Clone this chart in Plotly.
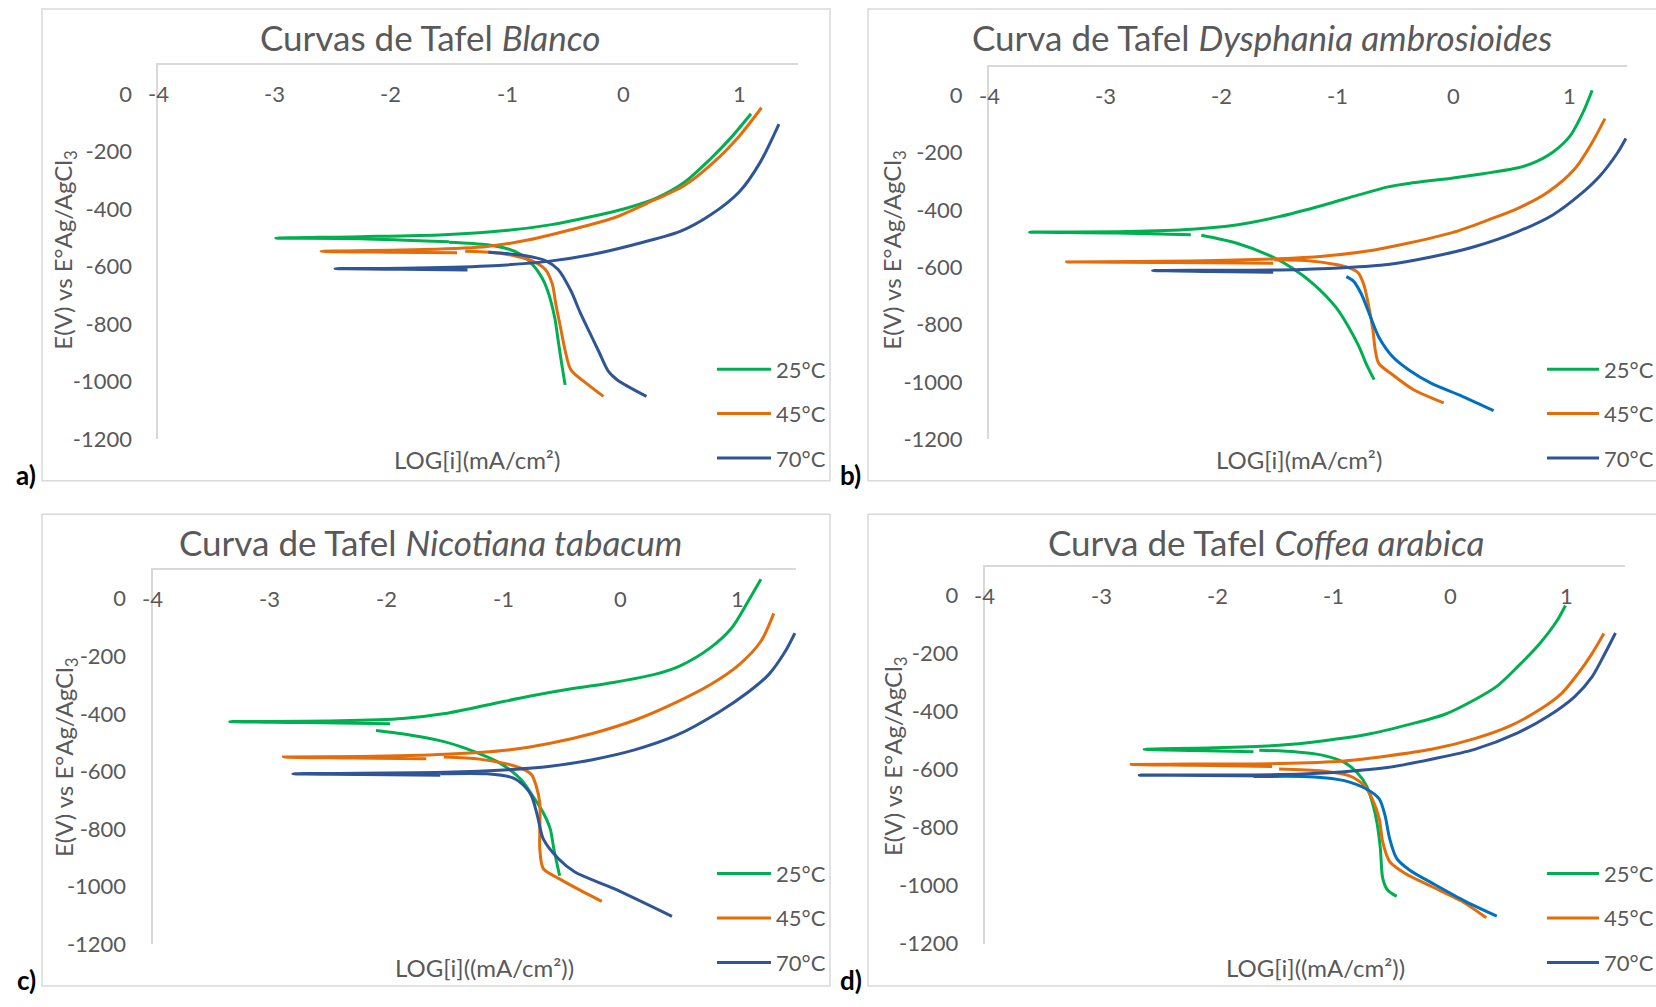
import plotly.graph_objects as go

# ---------------- data: E (mV) vs log i, three temperatures per inhibitor ----------------
TEMPS = ["25°C", "45°C", "70°C"]
X_TICKS = [-4, -3, -2, -1, 0, 1]
Y_TICKS = [0, -200, -400, -600, -800, -1000, -1200]

# a) Blanco
bl25_ano_x = [-1.50, -2.26, -2.99, -2.26, -1.54, -0.99, -0.63, -0.27, 0.02, 0.28, 0.53, 0.75, 0.93, 1.10]
bl25_ano_y = [-514, -503, -501, -496, -489, -474, -455, -426, -398, -363, -306, -226, -151, -69]
bl25_cat_x = [-1.50, -1.17, -0.99, -0.88, -0.78, -0.70, -0.65, -0.59, -0.56, -0.53, -0.50]
bl25_cat_y = [-515, -524, -539, -558, -593, -638, -684, -776, -856, -936, -1011]
bl45_ano_x = [-1.43, -2.00, -2.60, -1.72, -1.17, -0.81, -0.45, -0.09, 0.20, 0.53, 0.78, 1.00, 1.19]
bl45_ano_y = [-552, -550, -547, -541, -530, -507, -472, -432, -381, -317, -237, -146, -48]
bl45_cat_x = [-1.36, -1.10, -0.92, -0.78, -0.67, -0.61, -0.58, -0.54, -0.50, -0.45, -0.30, -0.17]
bl45_cat_y = [-547, -552, -564, -581, -610, -661, -730, -810, -891, -959, -1011, -1051]
bl70_ano_x = [-1.34, -1.90, -2.48, -1.90, -1.17, -0.63, -0.27, 0.09, 0.49, 0.75, 1.00, 1.18, 1.34]
bl70_ano_y = [-612, -609, -607, -606, -598, -581, -558, -524, -478, -421, -340, -237, -105]
bl70_cat_x = [-1.16, -0.88, -0.67, -0.56, -0.45, -0.37, -0.29, -0.21, -0.13, -0.05, 0.20]
bl70_cat_y = [-550, -560, -579, -610, -684, -760, -828, -895, -962, -994, -1051]

# b) Dysphania ambrosioides
da25_ano_x = [-2.26, -2.90, -3.65, -2.81, -2.25, -1.87, -1.50, -1.12, -0.82, -0.56, -0.38, 0.00, 0.26, 0.52, 0.67, 0.86, 1.01, 1.12, 1.20]
da25_ano_y = [-486, -480, -477, -475, -467, -452, -423, -383, -348, -319, -307, -288, -273, -256, -239, -198, -141, -60, 18]
da25_cat_x = [-2.17, -1.87, -1.57, -1.39, -1.20, -1.01, -0.90, -0.81, -0.75, -0.68]
da25_cat_y = [-488, -515, -561, -601, -659, -739, -808, -877, -935, -992]
da45_ano_x = [-1.55, -2.40, -3.33, -2.25, -1.50, -1.12, -0.75, -0.38, 0.00, 0.30, 0.56, 0.82, 1.05, 1.20, 1.31]
da45_ano_y = [-586, -583, -581, -578, -570, -561, -544, -515, -478, -435, -394, -337, -256, -164, -81]
da45_cat_x = [-1.54, -1.27, -1.01, -0.90, -0.82, -0.77, -0.73, -0.69, -0.67, -0.64, -0.52, -0.34, -0.08]
da45_cat_y = [-573, -576, -590, -601, -618, -659, -728, -820, -889, -935, -975, -1027, -1073]
da70_ano_x = [-1.55, -2.10, -2.59, -1.50, -0.94, -0.56, -0.19, 0.19, 0.56, 0.86, 1.09, 1.27, 1.42, 1.49]
da70_ano_y = [-617, -614, -611, -609, -601, -590, -564, -527, -475, -417, -348, -279, -199, -150]
da70_cat_x = [-0.92, -0.86, -0.79, -0.71, -0.64, -0.52, -0.38, -0.19, 0.08, 0.35]
da70_cat_y = [-632, -647, -693, -774, -843, -912, -958, -1004, -1050, -1100]

# c) Nicotiana tabacum
nt25_ano_x = [-1.97, -2.70, -3.34, -2.40, -1.86, -1.50, -1.07, -0.78, -0.42, -0.06, 0.30, 0.51, 0.77, 0.95, 1.09, 1.20]
nt25_ano_y = [-434, -430, -427, -424, -416, -399, -363, -339, -313, -291, -262, -233, -170, -102, -10, 67]
nt25_cat_x = [-2.09, -1.79, -1.50, -1.25, -1.03, -0.85, -0.75, -0.66, -0.60, -0.57, -0.52]
nt25_cat_y = [-458, -474, -497, -531, -571, -628, -685, -743, -800, -868, -962]
nt45_ano_x = [-1.66, -2.30, -2.88, -2.22, -1.50, -0.96, -0.60, -0.24, 0.12, 0.48, 0.77, 1.02, 1.20, 1.31]
nt45_ano_y = [-556, -553, -550, -548, -540, -525, -502, -468, -422, -359, -298, -227, -148, -51]
nt45_cat_x = [-1.51, -1.21, -1.00, -0.85, -0.76, -0.72, -0.69, -0.69, -0.69, -0.66, -0.53, -0.35, -0.16]
nt45_cat_y = [-550, -557, -571, -588, -611, -651, -708, -811, -868, -937, -971, -1011, -1051]
nt70_ano_x = [-1.54, -2.20, -2.80, -1.50, -0.96, -0.60, -0.24, 0.12, 0.48, 0.84, 1.09, 1.27, 1.41, 1.49]
nt70_ano_y = [-613, -610, -608, -603, -594, -582, -559, -525, -474, -394, -325, -262, -182, -120]
nt70_cat_x = [-1.54, -1.14, -0.92, -0.82, -0.76, -0.71, -0.66, -0.53, -0.39, -0.06, 0.44]
nt70_cat_y = [-608, -608, -622, -651, -685, -754, -834, -903, -949, -1006, -1103]

# d) Coffea arabica
ca25_ano_x = [-1.69, -2.20, -2.63, -2.03, -1.47, -1.10, -0.72, -0.35, -0.05, 0.21, 0.40, 0.58, 0.77, 0.92, 0.99]
ca25_ano_y = [-538, -534, -530, -525, -516, -501, -479, -444, -410, -359, -313, -245, -165, -85, -34]
ca25_cat_x = [-1.64, -1.32, -1.10, -0.91, -0.80, -0.72, -0.67, -0.63, -0.60, -0.58, -0.54, -0.46]
ca25_cat_y = [-533, -539, -550, -575, -610, -655, -712, -781, -872, -974, -1014, -1037]
ca45_ano_x = [-1.53, -2.20, -2.74, -2.22, -1.47, -0.91, -0.54, -0.16, 0.21, 0.51, 0.77, 0.96, 1.10, 1.22, 1.32]
ca45_ano_y = [-589, -585, -582, -581, -579, -570, -553, -530, -493, -450, -393, -336, -268, -199, -131]
ca45_cat_x = [-1.47, -1.10, -0.87, -0.74, -0.67, -0.61, -0.58, -0.52, -0.39, -0.16, 0.10, 0.31]
ca45_cat_y = [-598, -605, -621, -655, -701, -769, -849, -917, -957, -1003, -1054, -1111]
ca70_ano_x = [-1.47, -2.10, -2.67, -1.47, -0.91, -0.54, -0.16, 0.21, 0.58, 0.84, 1.07, 1.22, 1.33, 1.42]
ca70_ano_y = [-622, -620, -619, -617, -607, -593, -564, -530, -473, -416, -348, -279, -199, -129]
ca70_cat_x = [-1.69, -1.17, -0.91, -0.72, -0.61, -0.56, -0.52, -0.46, -0.35, -0.13, 0.13, 0.40]
ca70_cat_y = [-624, -625, -638, -667, -701, -758, -838, -906, -946, -997, -1054, -1105]

# ---------------- styling ----------------
W, H = 1656, 1007
FONT = "Lato, 'Open Sans', sans-serif"
TXT = "#595959"
GRID = "#D9D9D9"
COLORS = ["#00B050", "#E46C0A", "#2F5597"]
BRIGHT_BLUE = "#0070C0"
LW = 3

panels = [
    dict(label="a)", title="Curvas de Tafel <i>Blanco</i>", xtitle="LOG[i](mA/cm²)",
         box=(42, 9, 830, 487), plot=(158.4, 66, 797.5, 445),
         tpos=(430, 37), xtpos=(477, 466), ytpos=(65, 253),
         leg_x=(717, 771), leg_y=(374, 419, 464), lpos=(26, 481),
         series=[(bl25_ano_x, bl25_ano_y, bl25_cat_x, bl25_cat_y),
                 (bl45_ano_x, bl45_ano_y, bl45_cat_x, bl45_cat_y),
                 (bl70_ano_x, bl70_ano_y, bl70_cat_x, bl70_cat_y)],
         cat70_color=COLORS[2]),
    dict(label="b)", title="Curva de Tafel <i>Dysphania ambrosioides</i>", xtitle="LOG[i](mA/cm²)",
         box=(868, 9, 1662, 487), plot=(989, 67.7, 1627, 445),
         tpos=(1262, 37), xtpos=(1299, 466), ytpos=(894, 253),
         leg_x=(1547, 1599), leg_y=(374, 419, 464), lpos=(851, 481),
         series=[(da25_ano_x, da25_ano_y, da25_cat_x, da25_cat_y),
                 (da45_ano_x, da45_ano_y, da45_cat_x, da45_cat_y),
                 (da70_ano_x, da70_ano_y, da70_cat_x, da70_cat_y)],
         cat70_color=BRIGHT_BLUE),
    dict(label="c)", title="Curva de Tafel <i>Nicotiana tabacum</i>", xtitle="LOG[i]((mA/cm²))",
         box=(42, 521, 830, 999), plot=(152.5, 577.3, 796, 956.7),
         tpos=(430, 549), xtpos=(484, 980), ytpos=(65, 767),
         leg_x=(717, 771), leg_y=(885, 930, 975), lpos=(26, 993),
         series=[(nt25_ano_x, nt25_ano_y, nt25_cat_x, nt25_cat_y),
                 (nt45_ano_x, nt45_ano_y, nt45_cat_x, nt45_cat_y),
                 (nt70_ano_x, nt70_ano_y, nt70_cat_x, nt70_cat_y)],
         cat70_color=COLORS[2]),
    dict(label="d)", title="Curva de Tafel <i>Coffea arabica</i>", xtitle="LOG[i]((mA/cm²))",
         box=(868, 521, 1662, 999), plot=(984.6, 574, 1624.8, 956),
         tpos=(1266, 549), xtpos=(1315, 980), ytpos=(894, 766),
         leg_x=(1547, 1599), leg_y=(885, 930, 975), lpos=(851, 993),
         series=[(ca25_ano_x, ca25_ano_y, ca25_cat_x, ca25_cat_y),
                 (ca45_ano_x, ca45_ano_y, ca45_cat_x, ca45_cat_y),
                 (ca70_ano_x, ca70_ano_y, ca70_cat_x, ca70_cat_y)],
         cat70_color=BRIGHT_BLUE),
]


def px(x):
    return x / W


def py(y):
    return 1 - y / H


fig = go.Figure()
layout = dict(
    width=W, height=H, margin=dict(l=0, r=0, t=0, b=0),
    paper_bgcolor="white", plot_bgcolor="white", showlegend=False,
    font=dict(family=FONT, color=TXT),
)
annotations, shapes = [], []

for i, p in enumerate(panels):
    n = "" if i == 0 else str(i + 1)
    xa, ya = "x" + n, "y" + n
    l, t, r, b = p["plot"]
    layout["xaxis" + n] = dict(
        domain=[px(l), px(r)], range=[-4, 1.5], anchor=ya, side="top",
        showline=True, linecolor=GRID, linewidth=2, showgrid=False, zeroline=False,
        showticklabels=False, ticks="", fixedrange=True,
    )
    layout["yaxis" + n] = dict(
        domain=[py(b), py(t)], range=[-1200, 100], anchor=xa,
        showline=True, linecolor=GRID, linewidth=2, showgrid=False, zeroline=False,
        tickvals=Y_TICKS, ticktext=[str(v) for v in Y_TICKS], ticks="", ticklabelstandoff=20,
        tickfont=dict(size=22, color=TXT, family=FONT), fixedrange=True,
    )

    for k, (ax, ay, cx, cy) in enumerate(p["series"]):
        col = COLORS[k]
        ccol = p["cat70_color"] if k == 2 else col
        fig.add_trace(go.Scatter(x=cx, y=cy, mode="lines", name=TEMPS[k], xaxis=xa, yaxis=ya,
                                 line=dict(color=ccol, width=LW, shape="spline", smoothing=0.8)))
        fig.add_trace(go.Scatter(x=ax, y=ay, mode="lines", name=TEMPS[k], xaxis=xa, yaxis=ya,
                                 line=dict(color=col, width=LW, shape="spline", smoothing=0.8)))

    # x tick labels sit on the E = 0 level, below the top axis line
    for v in X_TICKS:
        annotations.append(dict(x=v, y=0, xref=xa, yref=ya, text=str(v), showarrow=False,
                                xanchor="center", yanchor="middle",
                                font=dict(size=22, color=TXT, family=FONT)))

    # panel frame
    x0, y0, x1, y1 = p["box"]
    shapes.append(dict(type="rect", xref="paper", yref="paper", x0=px(x0), x1=px(x1),
                       y0=py(y1), y1=py(y0), line=dict(color=GRID, width=1.5), layer="below"))

    annotations.append(dict(x=px(p["tpos"][0]), y=py(p["tpos"][1]), xref="paper", yref="paper",
                            text=p["title"], showarrow=False, xanchor="center", yanchor="middle",
                            font=dict(size=35, color=TXT, family=FONT)))
    annotations.append(dict(x=px(p["xtpos"][0]), y=py(p["xtpos"][1]), xref="paper", yref="paper",
                            text=p["xtitle"], showarrow=False, xanchor="center", yanchor="middle",
                            font=dict(size=24, color=TXT, family=FONT)))
    annotations.append(dict(x=px(p["ytpos"][0]), y=py(p["ytpos"][1]), xref="paper", yref="paper",
                            text="E(V) vs E°Ag/AgCl<sub>3</sub>", textangle=-90, showarrow=False,
                            xanchor="center", yanchor="middle",
                            font=dict(size=24, color=TXT, family=FONT)))
    annotations.append(dict(x=px(p["lpos"][0]), y=py(p["lpos"][1]), xref="paper", yref="paper",
                            text="<b>%s</b>" % p["label"], showarrow=False, xanchor="center",
                            yanchor="middle", font=dict(size=26, color="black", family=FONT)))

    # legend
    lx0, lx1 = p["leg_x"]
    for k, ly in enumerate(p["leg_y"]):
        shapes.append(dict(type="line", xref="paper", yref="paper", x0=px(lx0), x1=px(lx1),
                           y0=py(ly), y1=py(ly), line=dict(color=COLORS[k], width=LW)))
        annotations.append(dict(x=px(lx1 + 3), y=py(ly), xref="paper", yref="paper",
                                text=TEMPS[k], showarrow=False, xanchor="left", yanchor="middle",
                                font=dict(size=22, color=TXT, family=FONT)))

layout["annotations"] = annotations
layout["shapes"] = shapes
fig.update_layout(**layout)
fig.write_html("out.html")
